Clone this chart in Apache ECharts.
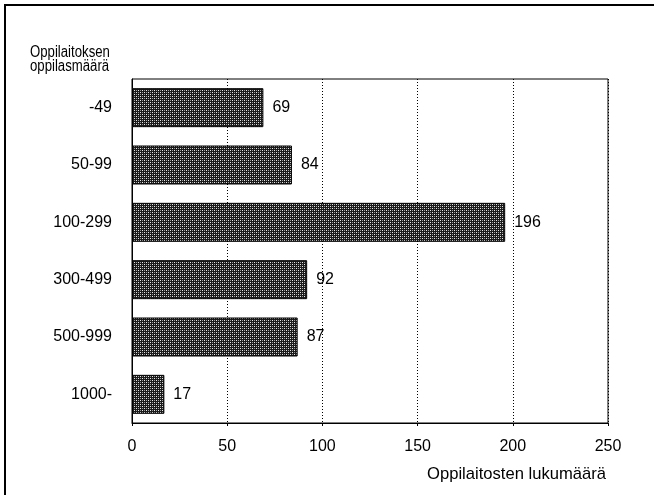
<!DOCTYPE html>
<html><head><meta charset="utf-8">
<script src="https://cdn.jsdelivr.net/npm/echarts@6/dist/echarts.min.js"></script>
<style>html,body{margin:0;padding:0;background:#fff}#c{width:654px;height:495px}</style>
</head><body><div id="c"></div>
<script>
var categories = ['-49', '50-99', '100-299', '300-499', '500-999', '1000-'];
var values = [69, 84, 196, 92, 87, 17];
var xTicks = [0, 50, 100, 150, 200, 250];

var pc = document.createElement('canvas');
pc.width = 4; pc.height = 4;
var g = pc.getContext('2d');
g.fillStyle = '#1a1a1a'; g.fillRect(0, 0, 4, 4);
g.fillStyle = '#e8e8e8';
g.fillRect(0, 0, 1, 1); g.fillRect(2, 2, 1, 1);
g.fillStyle = '#9a9a9a';
g.fillRect(2, 0, 1, 1); g.fillRect(0, 2, 1, 1);

var font = '"Liberation Sans", Arial, sans-serif';
var chart = echarts.init(document.getElementById('c'), null, {renderer: 'canvas'});
chart.setOption({
  animation: false,
  backgroundColor: '#fff',
  grid: {left: 132, right: 46, top: 79, bottom: 72, show: true, borderColor: '#000', borderWidth: 1},
  graphic: [{type: 'rect', shape: {x: 5, y: 5, width: 800, height: 800}, style: {fill: 'none', stroke: '#000', lineWidth: 2}, silent: true},
            {type: 'text', x: 30, y: 46, scaleY: 1.2, originY: 0,
             style: {text: 'Oppilaitoksen\noppilasmäärä', font: '13.2px ' + font, fill: '#000', lineHeight: 11.5, verticalAlign: 'top'}}],
  xAxis: {
    type: 'value', min: xTicks[0], max: xTicks[xTicks.length - 1], interval: 50,
    name: 'Oppilaitosten lukumäärä', nameLocation: 'end', nameGap: 0,
    nameTextStyle: {color: '#000', fontSize: 16.6, fontFamily: font, align: 'right', verticalAlign: 'top', padding: [43, 2, 0, 0]},
    axisLine: {show: true, lineStyle: {color: '#000', width: 1}},
    axisTick: {show: true, inside: false, length: 3, lineStyle: {color: '#000'}},
    axisLabel: {color: '#000', fontSize: 16, fontFamily: font, margin: 16},
    splitLine: {show: true, lineStyle: {color: '#000', type: [1, 2], width: 1}}
  },
  yAxis: {
    type: 'category', data: categories, inverse: true,
    axisLine: {show: true, lineStyle: {color: '#000'}},
    axisTick: {show: false},
    axisLabel: {color: '#000', fontSize: 16, fontFamily: font, margin: 20}
  },
  series: [{
    type: 'bar', data: values, barCategoryGap: '32%',
    itemStyle: {color: {image: pc, repeat: 'repeat'}, borderColor: '#000', borderWidth: 1},
    label: {show: true, position: 'right', distance: 9, color: '#000', fontSize: 16, fontFamily: font}
  }]
});
</script></body></html>
